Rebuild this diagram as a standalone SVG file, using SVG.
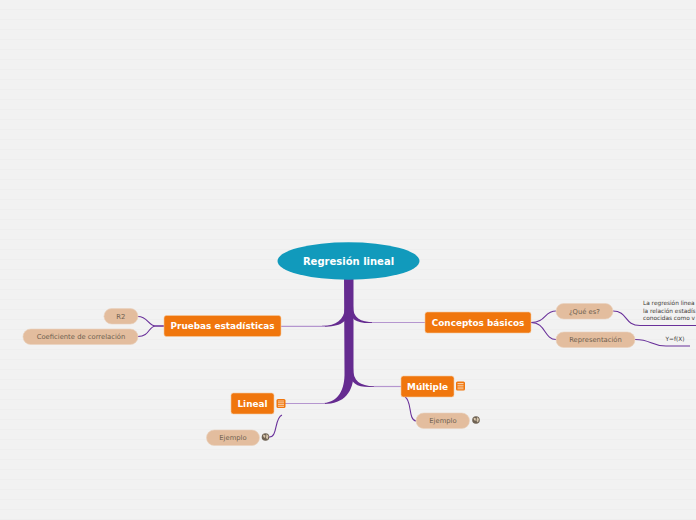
<svg xmlns="http://www.w3.org/2000/svg" width="696" height="520" viewBox="0 0 696 520">
<defs>
<pattern id="bgp" width="696" height="10" patternUnits="userSpaceOnUse"><rect width="696" height="10" fill="#f2f2f2"/><rect y="9" width="696" height="1.300" fill="#eeeeee"/></pattern>
<g id="note"><rect x="-4.5" y="-4.5" width="9" height="9" rx="1.5" fill="#f0760d"/><path d="M-3-2.500H3M-3-.7H3M-3 1.100H3M-3 2.800H3" stroke="#fbe3cc" stroke-width=".8" fill="none"/></g>
<g id="globe"><circle r="3.800" fill="#6e6253"/><path d="M-2.500-2.500L0-1.500L-.5 1L-2 0ZM1-3L3-1L2 2.500L.5 1Z" fill="#d8c7ae"/></g>
</defs>
<style>
text{font-family:"DejaVu Sans",Verdana,sans-serif;text-anchor:middle}
.main{fill:#f0760d;stroke:#f5c9a0;stroke-width:.6}
.sub{fill:#e3bd9e;stroke:#ead2bd;stroke-width:.6}
.mt{font-size:8.900px;font-weight:700;fill:#fff}
.st{font-size:6.800px;fill:#6e5f50}
.nt{font-size:5.800px;fill:#3f3a36;text-anchor:start}
.thin{fill:none;stroke:#69309a;stroke-width:1.100}
.pale{fill:none;stroke:#b596cf;stroke-width:1.200}
</style>
<rect id="background" width="696" height="520" fill="url(#bgp)"/>
<g id="connectors">
<path d="M344 275H353.500V372C354 392 344 404 324 404V403C338 402 345 390 344.500 372Z" fill="#652b90"/>
<path d="M345 308C344 320 336 326 322 325.800V326.800C340 327 348 322 348 312Z" fill="#652b90"/>
<path d="M353 306C353 318 360 322 374 322.200V322.900C358 324 350 320 350 310Z" fill="#652b90"/>
<path d="M353 368C353 381 360 386 374 386.200V386.900C358 388 350 384 350 372Z" fill="#652b90"/>
<path class="pale" d="M281 326.300H325"/>
<path class="pale" d="M372 322.500H425"/>
<path class="pale" d="M374 386.500H401"/>
<path class="pale" d="M285 403.500H325"/>
<path class="thin" d="M164 326H156C148 326 148 316.500 138 316.500"/>
<path class="thin" d="M164 326H156C148 326 150 336.500 138 336.500"/>
<path class="thin" d="M531 322.500C546 322.500 544 311 556 311"/>
<path class="thin" d="M531 322.500C546 322.500 544 339.500 556 339.500"/>
<path class="thin" d="M613 311C628 311 624 325.500 640 325.500H696"/>
<path class="thin" d="M635 339.500C652 339.500 650 346 666 346H690"/>
<path class="thin" d="M405 397C412 400 408 420 416 421"/>
<path class="thin" d="M282 415C274 418 278 438 269 437"/>
</g>
<g id="root"><ellipse cx="348.500" cy="261" rx="71" ry="18.700" fill="#119abc"/><text x="348.500" y="265" font-size="10px" font-weight="700" fill="#fff">Regresión lineal</text></g>
<g id="n-pruebas"><rect class="main" x="164" y="315.500" width="117" height="21" rx="2.500"/><text class="mt" x="222.500" y="329">Pruebas estadísticas</text></g>
<g id="n-r2"><rect class="sub" x="104" y="308.500" width="34" height="15.500" rx="7.700"/><text class="st" x="120.800" y="319">R2</text></g>
<g id="n-coef"><rect class="sub" x="23" y="329" width="115" height="15.500" rx="7.700"/><text class="st" x="81" y="339.300">Coeficiente de correlación</text></g>
<g id="n-conceptos"><rect class="main" x="425" y="312" width="106" height="21" rx="2.500"/><text class="mt" x="478" y="326">Conceptos básicos</text></g>
<g id="n-que"><rect class="sub" x="556" y="303.500" width="57" height="15.500" rx="7.700"/><text class="st" x="584.500" y="314">¿Qué es?</text></g>
<g id="n-rep"><rect class="sub" x="556" y="332" width="79" height="15.500" rx="7.700"/><text class="st" x="595.500" y="342">Representación</text></g>
<g id="n-nota"><text class="nt" x="643" y="305">La regresión linea</text><text class="nt" x="643" y="313">la relación estadís</text><text class="nt" x="643" y="320">conocidas como v</text></g>
<g id="n-yfx"><text x="675" y="341" font-size="5.800px" fill="#3f3a36">Y=f(X)</text></g>
<g id="n-multiple"><rect class="main" x="401" y="376" width="53" height="21" rx="2.500"/><text class="mt" x="427.500" y="390">Múltiple</text><use href="#note" x="460.500" y="386"/></g>
<g id="n-ej1"><rect class="sub" x="416" y="413" width="53.500" height="15.500" rx="7.700"/><text class="st" x="443" y="423">Ejemplo</text><use href="#globe" x="476" y="420"/></g>
<g id="n-lineal"><rect class="main" x="231" y="393" width="43" height="21" rx="2.500"/><text class="mt" x="252.500" y="407">Lineal</text><use href="#note" x="281" y="403.500"/></g>
<g id="n-ej2"><rect class="sub" x="206.500" y="430" width="53" height="15.500" rx="7.700"/><text class="st" x="233" y="440">Ejemplo</text><use href="#globe" x="265.500" y="437"/></g>
</svg>
